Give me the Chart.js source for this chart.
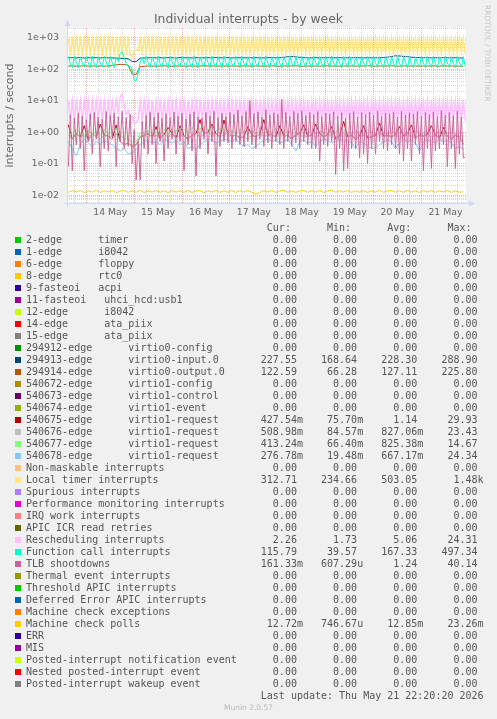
<!DOCTYPE html>
<html><head><meta charset="utf-8">
<script src="https://cdn.jsdelivr.net/npm/chart.js@4/dist/chart.umd.min.js"></script>
<style>
html,body{margin:0;padding:0;background:#f0f0f0;}
#wrap{position:relative;width:497px;height:719px;overflow:hidden;background:#f0f0f0;}
canvas{position:absolute;left:0;top:0;}
.t{position:absolute;font-family:"DejaVu Sans";color:#666;white-space:nowrap;}
#title{left:0;width:497px;text-align:center;top:11px;font-size:12.4px;}
#rrd{left:492px;top:5px;font-size:7.5px;line-height:9px;color:#c8c8c8;transform:rotate(90deg);transform-origin:0 0;}
#munin{left:0;width:497px;text-align:center;top:703px;font-size:7.5px;color:#bbb;}
#legend{position:absolute;left:26px;top:222px;margin:0;font:10px "DejaVu Sans Mono";line-height:12px;color:#555;white-space:pre;}
.sw{position:absolute;left:15px;width:6px;height:6px;}
</style></head><body>
<div id="wrap">
<canvas id="c" width="497" height="719"></canvas>
<div class="t" id="title">Individual interrupts - by week</div>
<div class="t" id="rrd">RRDTOOL / TOBI OETIKER</div>
<pre id="legend"></pre>
<div class="t" id="munin">Munin 2.0.57</div>
</div>
<script>
// ---- x categories ----
const dayLabels = ['14 May','15 May','16 May','17 May','18 May','19 May','20 May','21 May'];
const yDecadeLabels = ['1e-02','1e-01','1e+00','1e+01','1e+02','1e+03'];

// ---- hourly series (200 samples, one per hour from May 13 15:00) ----
const localTimer = [
950,320,900,310,980,330,920,300,960,320,940,310,900,330,970,320,930,310,960,300,940,320,980,330,900,310,950,340,920,330,880,300,
240,380,420,390,
900,330,960,320,940,310,990,320,930,300,
960,330,920,310,970,320,940,300,980,330,
910,310,960,320,1000,330,930,300,950,320,
970,310,920,330,960,300,940,320,990,310,
930,330,960,300,920,320,980,310,950,330,
900,310,970,320,940,300,960,330,920,310,
1050,320,940,300,960,330,910,310,970,320,
940,300,990,330,920,310,960,320,930,300,
980,330,940,310,960,320,900,300,970,330,
930,310,960,320,1000,300,940,330,920,310,
970,320,950,300,930,330,980,310,940,320,
960,300,910,330,970,310,940,320,990,300,
930,330,960,310,920,320,980,300,950,330,
900,310,970,320,940,300,960,330,920,310,
980,320,940,300,960,330,930,310,970,320,
940,300,990,330,920,310,960,320,930,300,
970,330,940,313];

const functionCall = [
250,150,112,260,165,110,245,155,115,255,160,108,262,150,112,248,158,115,255,170,110,
250,160,112,240,175,
320,350,
230,150,118,125,100,
45,42,75,
170,240,150,
255,158,112,248,165,110,262,150,115,250,160,108,258,170,112,245,155,116,260,162,110,252,150,113,265,168,109,248,158,115,
255,160,111,260,152,114,250,166,108,263,158,112,247,150,116,256,170,110,261,155,113,249,162,109,258,150,115,252,168,111,
264,157,110,250,160,114,255,152,108,248,170,112,262,158,116,253,150,110,259,165,113,246,155,109,260,162,115,251,150,112,
257,168,110,263,158,114,249,152,108,256,166,112,260,150,116,247,162,110,258,155,113,252,170,109,265,160,115,250,150,111,
255,165,112,248,158,110,262,152,114,251,168,108,258,150,112,246,160,116,260,155,110,253,162,113,257,150,109,249,166,115,
261,158,112,250,152,110,256,168,114,
248,116];

const rescheduling = [
9.5,2.4,9.8,2.2,9.2,2.6,9.6,2.3,10,2.5,9.4,2.2,9.7,2.4,9.9,2.6,9.3,2.3,9.8,2.5,9.5,2.4,9.6,3,10.5,4,
13,16,7,3.5,5,2.8,3.2,1.9,2,2.6,
9.6,2.3,9.8,2.5,9.4,2.2,9.9,2.4,9.5,2.6,
9.7,2.3,9.3,2.5,9.8,2.2,9.6,2.4,10,2.3,
9.4,2.5,9.7,2.2,9.9,2.4,9.5,2.6,9.8,2.3,
9.6,2.5,9.3,2.2,9.7,2.4,9.9,2.3,9.5,2.6,
9.8,2.4,9.4,2.2,9.6,2.5,10,2.3,9.7,2.4,
9.5,2.2,9.9,2.6,9.3,2.3,9.8,2.5,9.6,2.2,
9.4,2.4,9.7,2.3,9.9,2.5,9.5,2.2,9.8,2.6,
9.6,2.3,9.3,2.4,9.7,2.5,10,2.2,9.4,2.3,
9.8,2.6,9.5,2.4,9.9,2.2,9.6,2.5,9.3,2.3,
9.7,2.4,9.8,2.2,9.5,2.6,9.4,2.3,9.9,2.5,
9.6,2.2,9.7,2.4,9.3,2.3,9.8,2.5,10,2.4,
9.5,2.3,9.4,2.6,9.9,2.2,9.6,2.4,9.7,2.5,
9.8,2.3,9.5,2.2,9.3,2.6,9.9,2.4,9.6,2.3,
9.4,2.5,9.7,2.2,9.8,2.4,9.5,2.3,10,2.6,
9.6,2.4,9.3,2.5,9.9,2.2,9.7,2.3,9.4,2.4,
9.8,2.6,9.5,2.3,9.6,2.2,9.9,2.5,9.7,2.4,
9.5,2.3,9.8,2.26];

const tlbShootdowns = [
0.08,3.5,0.06,2.8,0.4,4,0.3,3.2,0.06,2.5,
0.5,3.8,0.2,4.2,0.6,3,0.08,2.6,0.3,4.5,
0.25,3.4,0.7,4,0.08,3.1,0.5,4.6,0.3,2.9,
0.35,3.6,0.1,1.2,0.03,0.5,0.03,2.2,0.3,3.4,
0.2,4.4,0.4,3,0.1,4.1,0.5,2.7,0.12,3.8,
0.3,2.9,0.6,4.3,0.2,3.2,0.5,4,0.06,2.6,
0.4,3.7,0.25,4.4,0.04,3,0.3,2.8,0.6,4.2,
0.2,3.3,0.5,4.6,0.04,2.9,0.35,3.9,0.5,3.1,
0.45,4.2,0.3,3.6,0.5,5,0.4,3.3,0.35,4.5,
0.5,10,0.4,3.8,0.3,4.4,0.6,3,0.35,5.2,
0.45,3.5,0.3,4.1,0.5,3.7,0.4,11,0.3,4.3,
0.5,3.2,0.35,4.6,0.45,3.9,0.3,4.8,0.5,3.4,
0.4,4.2,0.3,3.6,0.3,4.5,0.12,3.1,0.4,4,
0.35,3.7,0.5,4.4,0.045,3.2,0.3,4.1,0.06,2.8,
0.07,3.9,0.3,4.5,0.3,3,0.15,4.2,0.2,3.6,
0.1,4.3,0.3,3.4,0.2,4.7,0.5,3.1,0.3,4,
0.25,3.8,0.4,4.4,0.3,3,0.2,4.6,0.12,3.5,
0.3,4.1,0.12,3.7,0.4,4.5,0.2,3.2,0.06,4.2,
0.3,3.6,0.07,4.4,0.25,3.1,0.3,4.8,0.4,3.5,
0.08,4.2,0.3,3.3,0.07,4.6,0.2,3,0.15,0.16];

// ---- two-hourly series (100 samples) ----
const virtio0Input = [
230,232,228,235,226,231,229,233,227,234,
230,228,225,222,218,215,175,172,225,228,
230,233,229,231,227,234,230,228,232,229,
231,227,233,229,230,232,228,234,230,229,
233,228,231,230,227,232,229,233,230,228,
231,234,229,232,238,248,252,246,238,233,
230,229,232,228,231,233,229,230,232,228,
231,229,233,230,228,232,229,231,230,234,
240,252,265,262,255,248,240,235,232,230,
232,229,231,228,233,230,229,232,227,227.5];

const virtio0Output = [
125,127,124,126,128,125,127,124,126,125,
127,130,138,142,140,135,70,68,120,124,
126,124,127,125,128,126,124,127,125,126,
125,127,124,126,128,125,127,124,126,125,
127,125,126,124,128,126,125,127,124,126,
125,128,126,124,127,125,126,128,125,124,
126,125,127,124,126,128,125,126,124,127,
125,126,124,127,125,128,126,124,125,127,
126,128,125,124,127,126,125,127,124,126,
125,127,126,124,128,125,126,124,125,122.6];

const virtio1Req675 = [
1.7,0.6,0.9,0.7,1.6,0.55,0.9,0.7,1.8,0.8,
0.75,0.6,1.7,0.5,0.4,0.45,0.35,0.4,0.7,0.8,
0.9,0.7,1.5,0.6,0.85,1.4,0.9,0.65,1.6,0.75,
0.6,0.8,0.9,2.5,0.85,1.0,1.8,0.9,0.7,2.4,
0.9,0.75,0.8,0.65,0.7,1.5,0.8,0.7,0.9,2.5,
0.8,0.85,0.7,1.6,0.75,0.8,0.6,0.85,0.9,1.7,
0.75,0.8,1.8,0.9,0.7,0.85,1.5,0.6,0.75,2.2,
0.7,0.8,0.6,0.75,1.6,0.65,0.7,0.8,1.9,0.75,
0.8,0.7,0.85,1.5,0.75,0.9,1.7,0.65,0.8,0.75,
0.85,1.6,0.8,0.65,1.4,0.75,0.6,0.8,0.7,0.43];

const virtio1Req676 = [
0.8,0.6,0.9,0.7,0.85,0.55,0.9,0.7,0.6,0.8,
0.75,0.6,0.9,0.5,0.4,0.45,0.35,0.4,0.7,0.8,
0.9,0.7,0.8,0.6,0.85,0.7,0.9,0.65,0.8,0.75,
0.6,0.8,0.9,0.7,0.85,1.0,0.8,0.9,0.7,0.85,
0.9,0.75,0.8,0.65,0.7,0.6,0.8,0.7,0.9,0.75,
0.8,0.85,0.7,0.9,0.75,0.8,0.6,0.85,0.9,0.7,
0.75,0.8,0.65,0.9,0.7,0.85,0.8,0.6,0.75,0.9,
0.7,0.8,0.6,0.75,0.85,0.65,0.7,0.8,0.9,0.75,
0.8,0.7,0.85,0.6,0.75,0.9,0.7,0.65,0.8,0.75,
0.85,0.7,0.8,0.65,0.9,0.75,0.6,0.8,0.7,0.51];

const virtio1Req677 = [
1.0,0.8,1.2,0.9,0.7,1.1,0.9,1.0,0.8,1.2,
0.9,1.0,1.3,0.8,0.6,0.7,0.4,0.5,0.9,1.0,
1.1,0.9,1.0,0.8,1.2,0.9,1.0,1.1,1.3,1.2,
1.0,1.4,1.1,1.3,1.5,1.2,1.4,1.1,1.3,1.2,
1.0,1.1,0.9,1.2,1.0,0.8,1.1,0.9,1.0,1.2,
1.1,1.0,1.3,0.9,1.2,1.0,1.1,1.4,1.0,0.9,
1.2,1.0,0.9,1.1,1.0,1.3,0.9,1.0,1.2,1.1,
1.0,0.9,1.1,1.0,0.8,1.2,1.0,0.9,1.1,1.0,
0.9,1.1,1.0,1.2,0.9,1.0,0.8,1.1,1.0,0.9,
1.1,1.0,0.9,1.2,1.0,0.8,1.0,0.9,0.7,0.41];

const virtio1Req678 = [
0.5,0.3,0.18,0.4,0.6,0.45,0.35,0.5,0.4,0.55,
0.45,0.4,0.3,0.25,0.3,0.2,0.22,0.28,0.4,0.5,
0.55,0.45,0.5,0.4,0.6,0.5,0.45,0.55,0.4,0.5,
0.3,0.35,0.28,0.4,0.5,0.6,0.55,0.45,0.5,0.6,
0.55,0.5,0.6,0.45,0.35,0.4,0.3,0.35,0.45,0.55,
0.6,0.5,0.55,0.45,0.5,0.6,0.4,0.25,0.5,0.55,
0.45,0.5,0.35,0.5,0.6,0.55,0.45,0.5,0.6,0.5,
0.55,0.45,0.3,0.5,0.45,0.35,0.3,0.32,0.4,0.5,
0.55,0.5,0.3,0.45,0.6,0.5,0.55,0.45,0.25,0.5,
0.55,0.5,0.45,0.6,0.5,0.55,0.45,0.3,0.35,0.28];

const machineCheckPolls = [
0.0122,0.0138,0.0125,0.0140,0.0120,0.0136,0.0124,0.0141,0.0121,0.0137,
0.0125,0.0139,0.0120,0.0134,0.0140,0.0122,0.0137,0.0123,0.0141,0.0121,
0.0136,0.0124,0.0140,0.0122,0.0137,0.0120,0.0139,0.0124,0.0136,0.0122,
0.0140,0.0121,0.0135,0.0138,0.0120,0.0137,0.0124,0.0141,0.0122,0.0136,
0.0123,0.0139,0.0121,0.0137,0.0124,0.0140,0.0122,0.0106,0.0121,0.0137,
0.0124,0.0139,0.0122,0.0136,0.0141,0.0123,0.0137,0.0121,0.0135,0.0140,
0.0122,0.0137,0.0124,0.0139,0.0121,0.0136,0.0142,0.0123,0.0138,0.0124,
0.0140,0.0122,0.0136,0.0123,0.0139,0.0121,0.0137,0.0124,0.0141,0.0122,
0.0136,0.0139,0.0123,0.0137,0.0122,0.0140,0.0124,0.0136,0.0121,0.0138,
0.0124,0.0139,0.0122,0.0137,0.0125,0.0140,0.0121,0.0136,0.0123,0.0127];

// ---- legend table ----
const legendNames = [
'2-edge      timer','1-edge      i8042','6-edge      floppy','8-edge      rtc0','9-fasteoi   acpi',
'11-fasteoi   uhci_hcd:usb1','12-edge      i8042','14-edge      ata_piix','15-edge      ata_piix',
'294912-edge      virtio0-config','294913-edge      virtio0-input.0','294914-edge      virtio0-output.0',
'540672-edge      virtio1-config','540673-edge      virtio1-control','540674-edge      virtio1-event',
'540675-edge      virtio1-request','540676-edge      virtio1-request','540677-edge      virtio1-request','540678-edge      virtio1-request',
'Non-maskable interrupts','Local timer interrupts','Spurious interrupts','Performance monitoring interrupts',
'IRQ work interrupts','APIC ICR read retries','Rescheduling interrupts','Function call interrupts','TLB shootdowns',
'Thermal event interrupts','Threshold APIC interrupts','Deferred Error APIC interrupts','Machine check exceptions',
'Machine check polls','ERR','MIS','Posted-interrupt notification event','Nested posted-interrupt event','Posted-interrupt wakeup event'];
const legendColors = [
'#00CC00','#0066B3','#FF8000','#FFCC00','#330099','#990099','#CCFF00','#FF0000','#808080',
'#008F00','#00487D','#B35A00','#B38F00','#6B006B','#8FB300','#B30000','#BEBEBE','#80FF80','#80C9FF',
'#FFC080','#FFE680','#AA80FF','#EE00CC','#FF8080','#666600','#FFBFFF','#00FFCC','#CC6699',
'#999900','#00CC00','#0066B3','#FF8000','#FFCC00','#330099','#990099','#CCFF00','#FF0000','#808080'];
const Z='0.00';
const curVals = [Z,Z,Z,Z,Z,Z,Z,Z,Z,Z,'227.55','122.59',Z,Z,Z,'427.54m','508.98m','413.24m','276.78m',Z,'312.71',Z,Z,Z,Z,'2.26','115.79','161.33m',Z,Z,Z,Z,'12.72m',Z,Z,Z,Z,Z];
const minVals = [Z,Z,Z,Z,Z,Z,Z,Z,Z,Z,'168.64','66.28',Z,Z,Z,'75.70m','84.57m','66.40m','19.48m',Z,'234.66',Z,Z,Z,Z,'1.73','39.57','607.29u',Z,Z,Z,Z,'746.67u',Z,Z,Z,Z,Z];
const avgVals = [Z,Z,Z,Z,Z,Z,Z,Z,Z,Z,'228.30','127.11',Z,Z,Z,'1.14','827.06m','825.38m','667.17m',Z,'503.05',Z,Z,Z,Z,'5.06','167.33','1.24',Z,Z,Z,Z,'12.85m',Z,Z,Z,Z,Z];
const maxVals = [Z,Z,Z,Z,Z,Z,Z,Z,Z,Z,'288.90','225.80',Z,Z,Z,'29.93','23.43','14.67','24.34',Z,'1.48k',Z,Z,Z,Z,'24.31','497.34','40.14',Z,Z,Z,Z,'23.26m',Z,Z,Z,Z,Z];
const lastUpdate = 'Last update: Thu May 21 22:20:20 2026';

// ---- build legend ----
function cell(s, w){ const m = s.match(/^([0-9.]+)([a-zA-Z]?)$/); return m[1].padStart(w) + (m[2] || ' '); }
const lines = [' '.repeat(40)+'Cur:'+' '.repeat(6)+'Min:'+' '.repeat(6)+'Avg:'+' '.repeat(6)+'Max:'];
legendNames.forEach((n,i)=>{
  lines.push(n.padEnd(35)+cell(curVals[i],10)+cell(minVals[i],9)+cell(avgVals[i],9)+cell(maxVals[i],9));
});
lines.push(' '.repeat(39)+lastUpdate);
document.getElementById('legend').textContent = lines.join('\n');
const wrap = document.getElementById('wrap');
legendColors.forEach((c,i)=>{
  const d = document.createElement('div'); d.className='sw'; d.style.background=c; d.style.top=(237+12*i)+'px'; wrap.appendChild(d);
});

// ---- chart ----
const hourly = localTimer.map((_, i) => i - 9);
const twoHourly = virtio0Input.map((_, j) => -9 + 2*j);
function pts(xs, ys){ return ys.map((y,i)=>({x:xs[i], y:y})); }
const seriesDefs = [
  {label:'294913-edge virtio0-input.0', color:'#00487D', xs:twoHourly, ys:virtio0Input, w:1},
  {label:'294914-edge virtio0-output.0', color:'#B35A00', xs:twoHourly, ys:virtio0Output, w:1},
  {label:'540675-edge virtio1-request', color:'#B30000', xs:twoHourly, ys:virtio1Req675, w:1},
  {label:'540676-edge virtio1-request', color:'#BEBEBE', xs:twoHourly, ys:virtio1Req676, w:1},
  {label:'540677-edge virtio1-request', color:'#80FF80', xs:twoHourly, ys:virtio1Req677, w:1},
  {label:'540678-edge virtio1-request', color:'#80C9FF', xs:twoHourly, ys:virtio1Req678, w:1},
  {label:'Local timer interrupts', color:'#FFE680', xs:hourly, ys:localTimer, w:1.5},
  {label:'Rescheduling interrupts', color:'#FFBFFF', xs:hourly, ys:rescheduling, w:1.5},
  {label:'Function call interrupts', color:'#00FFCC', xs:hourly, ys:functionCall, w:1},
  {label:'TLB shootdowns', color:'#CC6699', xs:hourly, ys:tlbShootdowns, w:1},
  {label:'Machine check polls', color:'#FFCC00', xs:twoHourly, ys:machineCheckPolls, w:1}
];
const datasets = seriesDefs.map((s,i)=>({
  label:s.label, data:pts(s.xs, s.ys), borderColor:s.color, backgroundColor:s.color,
  borderWidth:s.w, pointRadius:0, tension:0, fill:false, order:seriesDefs.length-1-i
}));

const xTicks = []; for (let h=-6; h<=186; h+=6) xTicks.push(h);
const Y_MIN = 0.0056, Y_MAX = 2030;
const yTickVals = [], yTickLabels = [], yTickMajor = [];
[-3,-2,-1,0,1,2,3].forEach(e=>{
  for (let m=1; m<=9; m++){
    const v = m*Math.pow(10,e);
    if (v>=Y_MIN && v<=Y_MAX){
      yTickVals.push(v);
      yTickMajor.push(m===1);
      yTickLabels.push(m===1 ? yDecadeLabels[e+2] : '');
    }
  }
});
const GRID_MINOR = 'rgba(150,150,150,0.38)';
const GRID_MAJOR = 'rgba(230,100,100,0.5)';
const AXIS = '#CFD6F8';

const muninPlugin = {
  id:'munin',
  beforeDraw(chart){
    const {ctx, chartArea:a} = chart;
    ctx.save(); ctx.fillStyle='#ffffff'; ctx.fillRect(a.left, a.top, a.right-a.left, a.bottom-a.top); ctx.restore();
  },
  afterDraw(chart){
    const {ctx, chartArea:a} = chart;
    const x0 = Math.round(a.left)+0.5, y0 = Math.round(a.bottom)+0.5;
    ctx.save();
    ctx.strokeStyle = AXIS; ctx.fillStyle = AXIS; ctx.lineWidth = 1;
    ctx.beginPath(); ctx.moveTo(x0, y0+4); ctx.lineTo(x0, a.top-4); ctx.stroke();
    ctx.beginPath(); ctx.moveTo(x0-4, y0); ctx.lineTo(a.right+5, y0); ctx.stroke();
    ctx.beginPath(); ctx.moveTo(x0-3, a.top-2); ctx.lineTo(x0+3, a.top-2); ctx.lineTo(x0, a.top-8); ctx.closePath(); ctx.fill();
    ctx.beginPath(); ctx.moveTo(a.right+3, y0-3); ctx.lineTo(a.right+3, y0+3); ctx.lineTo(a.right+9, y0); ctx.closePath(); ctx.fill();
    ctx.restore();
  }
};

new Chart(document.getElementById('c'), {
  type:'line',
  data:{datasets},
  plugins:[muninPlugin],
  options:{
    responsive:false, animation:false, devicePixelRatio:1, events:[],
    layout:{padding:{left:0, top:28, right:31, bottom:497}},
    plugins:{legend:{display:false}, tooltip:{enabled:false}, title:{display:false}},
    scales:{
      x:{
        type:'linear', min:-9.67, max:190.33,
        afterBuildTicks:(s)=>{ s.ticks = xTicks.map(v=>({value:v})); },
        afterFit:(s)=>{ s.height = 19; },
        ticks:{autoSkip:false, maxRotation:0, minRotation:0, padding:4, color:'#666',
          font:{family:'DejaVu Sans', size:9.3},
          callback:(v)=> (((v%24)+24)%24===12) ? dayLabels[(v-12)/24] : ''},
        grid:{drawTicks:false, lineWidth:1,
          color:(ctx)=> (ctx.tick && ((ctx.tick.value%24)+24)%24===0) ? GRID_MAJOR : GRID_MINOR},
        border:{display:false, dash:[1,1]}
      },
      y:{
        type:'logarithmic', min:Y_MIN, max:Y_MAX,
        afterBuildTicks:(s)=>{ s.ticks = yTickVals.map(v=>({value:v})); },
        afterFit:(s)=>{ s.width = 67; },
        ticks:{autoSkip:false, padding:8, color:'#666', font:{family:'DejaVu Sans', size:9.5},
          callback:(v,i)=> yTickLabels[i]},
        grid:{drawTicks:false, lineWidth:1,
          color:(ctx)=> yTickMajor[ctx.index] ? GRID_MAJOR : GRID_MINOR},
        border:{display:false, dash:[1,1]},
        title:{display:true, text:'interrupts / second', color:'#666',
          font:{family:'DejaVu Sans', size:11}, padding:{top:4, bottom:0}}
      }
    }
  }
});
</script>
</body></html>
